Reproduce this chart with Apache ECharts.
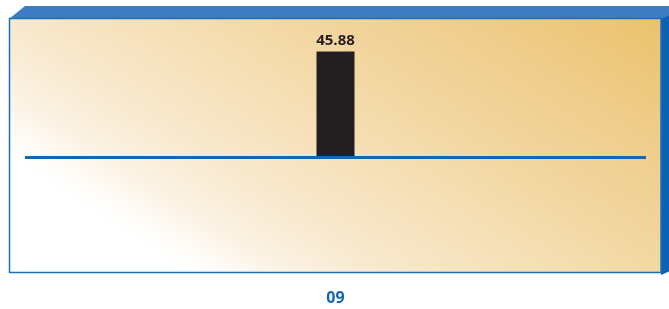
<!DOCTYPE html>
<html>
<head>
<meta charset="utf-8">
<script src="https://cdn.jsdelivr.net/npm/echarts@6/dist/echarts.min.js"></script>
<style>
  html, body { margin: 0; padding: 0; background: #ffffff; }
  #chart { width: 669px; height: 309px; }
</style>
</head>
<body>
<div id="chart"></div>
<script>
const categories = ['09'];
const values = [45.88];
const axisMin = -50;
const axisMax = 60;

const myChart = echarts.init(document.getElementById('chart'));

// box backdrop: front face with a diagonal gradient, white bottom-left to gold top-right
const frontFill = {
  type: 'linear',
  x: 0, y: 160, x2: 265, y2: -248,
  global: true,
  colorStops: [
    { offset: 0, color: '#ffffff' },
    { offset: 0.04, color: '#fffefc' },
    { offset: 0.12, color: '#fcf3e5' },
    { offset: 0.25, color: '#f8e8cc' },
    { offset: 0.4, color: '#f6e0b8' },
    { offset: 0.55, color: '#f3d8a3' },
    { offset: 0.75, color: '#efcd8c' },
    { offset: 1, color: '#ebc26a' }
  ]
};

const option = {
  backgroundColor: '#ffffff',
  animation: false,
  graphic: [
    {
      type: 'polygon',
      z: -10,
      shape: { points: [[9, 19], [25, 6], [690, 6], [690, 19]] },
      style: { fill: '#3c7cc2' }
    },
    {
      type: 'polygon',
      z: -10,
      shape: { points: [[661, 19], [690, 6], [690, 262], [661, 275]] },
      style: { fill: '#0d62b3' }
    },
    {
      type: 'rect',
      z: -9,
      shape: { x: 9.5, y: 18.5, width: 651.5, height: 254 },
      style: { fill: frontFill, stroke: '#1b6fbf', lineWidth: 1.5 }
    }
  ],
  grid: {
    left: 25,
    right: 23,
    top: 19,
    bottom: 36
  },
  xAxis: {
    type: 'category',
    data: categories,
    axisLine: { show: false, onZero: false },
    axisTick: { show: false },
    splitLine: { show: false },
    axisLabel: {
      color: '#1565b3',
      fontSize: 16,
      fontWeight: 'bold',
      fontFamily: 'Open Sans',
      margin: 17
    }
  },
  yAxis: {
    type: 'value',
    min: axisMin,
    max: axisMax,
    show: false
  },
  series: [
    {
      type: 'bar',
      data: values,
      barWidth: 38,
      itemStyle: { color: '#231f20' },
      label: {
        show: true,
        position: 'top',
        distance: 3,
        color: '#231f20',
        fontSize: 15,
        fontWeight: 'bold',
        fontFamily: 'Open Sans'
      },
      markLine: {
        silent: true,
        symbol: 'none',
        label: { show: false },
        lineStyle: { color: '#1466b4', width: 3, type: 'solid' },
        data: [{ yAxis: 0 }]
      }
    }
  ]
};

myChart.setOption(option);
</script>
</body>
</html>
